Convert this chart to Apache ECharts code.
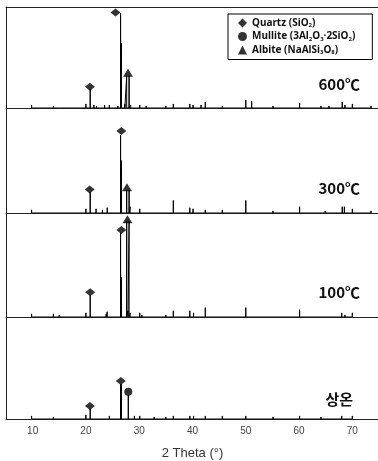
<!DOCTYPE html>
<html><head><meta charset="utf-8">
<script src="https://cdn.jsdelivr.net/npm/echarts@6/dist/echarts.min.js"></script>
<style>html,body{margin:0;padding:0;background:#fff;overflow:hidden;width:378px;height:461px}#c{width:390px;height:461px}</style>
</head><body><div id="c"></div>
<script>
// ---- data ----
const xMin = 5, xMax = 75;
const xTickStep = 5;
const panelLabels = ['600℃', '300℃', '100℃', '상온'];
// stick peaks [2theta, relative intensity %] per panel
const peaks600 = [[9.8,3],[13.9,2],[15.0,1],[20.0,4],[20.8,19],[21.5,3],[22.0,2],[23.5,3],[24.4,3],[26.0,2],[26.5,94],[26.68,64],[27.3,4],[27.65,32],[28.1,32],[28.4,3],[30.1,3],[31.3,2],[35.0,2],[36.4,4],[39.5,4],[40.1,3],[41.6,3],[42.4,6],[45.6,2],[50.0,8],[51.1,7],[55.1,2],[60.1,5],[64.1,2],[65.6,2],[68.1,6],[68.6,3],[70.0,4],[73.5,2]];
const peaks300 = [[9.8,3],[20.0,4],[20.8,20],[21.9,4],[23.1,3],[24.0,5],[26.5,74],[26.68,50],[27.65,22],[28.1,22],[28.3,6],[30.1,4],[36.4,12],[39.5,5],[40.1,4],[42.4,3],[45.6,3],[50.0,12],[55.1,2],[60.1,6],[64.9,2],[68.1,6],[68.5,6],[70.0,4],[73.5,2]];
const peaks100 = [[9.8,3],[13.9,3],[15.0,2],[20.0,4],[20.8,21],[23.8,3],[24.0,5],[26.5,81],[26.68,38],[27.65,92],[27.9,6],[28.1,92],[28.3,4],[30.1,4],[30.5,2],[35.0,2],[36.4,6],[39.5,6],[40.2,4],[42.4,9],[50.0,9],[60.1,7],[68.0,4],[68.6,2],[70.0,4]];
const peaksRT = [[9.8,3],[13.9,2],[20.0,4],[20.8,10],[24.4,3],[26.5,34],[26.68,34],[27.95,23.5],[29.1,3],[30.1,3],[32.8,2],[35.0,2],[36.4,3],[39.5,3],[40.2,3],[42.4,3],[45.6,3],[50.0,3],[55.1,2],[60.1,3],[64.1,2],[68.0,3],[70.0,3]];
// phase markers [2theta, marker centre %]
const quartz600 = [[25.55,94.5],[20.75,21]];
const albite600 = [[27.9,35]];
const quartz300 = [[26.65,78],[20.7,22.5]];
const albite300 = [[27.7,24.5]];
const quartz100 = [[26.65,83.7],[20.8,23.8]];
const albite100 = [[27.8,94]];
const quartzRT = [[26.55,37.3],[20.75,12.7]];
const mulliteRT = [[27.95,26.8]];

const allPeaks = [peaks600, peaks300, peaks100, peaksRT];
const markers = [
  [['Quartz', quartz600], ['Albite', albite600]],
  [['Quartz', quartz300], ['Albite', albite300]],
  [['Quartz', quartz100], ['Albite', albite100]],
  [['Quartz', quartzRT], ['Mullite', mulliteRT]]
];

// ---- layout ----
const grids = [
  {left: 6, top: 7, width: 373, height: 101},
  {left: 6, top: 108, width: 373, height: 105},
  {left: 6, top: 213, width: 373, height: 104},
  {left: 6, top: 317, width: 373, height: 102}
];
const labelY = [84, 188, 292, 399];
const labelRightEdge = [360, 360, 360, 353];
const symbols = {Quartz: ['diamond', [10, 8]], Mullite: ['circle', 8], Albite: ['triangle', [10, 8]]};
const frameLine = {show: true, lineStyle: {color: '#222', width: 1}};

function sticks(p) {
  const s = p.slice().sort((a, b) => a[0] - b[0]);
  const out = [];
  s.forEach(([x, h]) => { out.push([x, 0], [x, h], [x, 0]); });
  return out;
}

const xAxes = [], yAxes = [], series = [];
grids.forEach((g, i) => {
  const last = i === grids.length - 1;
  xAxes.push({
    type: 'value', gridIndex: i, min: xMin, max: xMax, interval: xTickStep, position: 'bottom',
    axisLine: frameLine, axisTick: {show: false}, splitLine: {show: false},
    axisLabel: {show: last, color: '#444', fontSize: 10, fontFamily: 'Liberation Sans', margin: 7,
      formatter: v => (v % 10 === 0 && v > xMin && v < xMax) ? String(v) : ''},
    name: last ? '2 Theta (°)' : '', nameLocation: 'middle', nameGap: 28,
    nameTextStyle: {fontSize: 13, color: '#333', fontFamily: 'Liberation Sans'}
  });
  yAxes.push({type: 'value', gridIndex: i, min: 0, max: 100, position: 'left',
    axisLine: frameLine, axisTick: {show: false}, axisLabel: {show: false}, splitLine: {show: false}});
  series.push({
    type: 'line', xAxisIndex: i, yAxisIndex: i, data: sticks(allPeaks[i]),
    showSymbol: false, symbol: 'none', lineStyle: {color: '#000', width: 1}, silent: true, z: 2
  });
  markers[i].forEach(([name, d]) => {
    series.push({
      type: 'scatter', name, xAxisIndex: i, yAxisIndex: i, data: d,
      symbol: symbols[name][0], symbolSize: symbols[name][1],
      itemStyle: {color: '#000'}, z: 3
    });
  });
});
// top frame line of the first panel
xAxes.push({type: 'value', gridIndex: 0, min: xMin, max: xMax, position: 'top',
  axisLine: frameLine, axisTick: {show: false}, axisLabel: {show: false}, splitLine: {show: false}});

const legendText = {
  Quartz: 'Quartz (SiO{s|2})',
  Mullite: 'Mullite (3Al{s|2}O{s|3}·2SiO{s|2})',
  Albite: 'Albite (NaAlSi{s|3}O{s|8})'
};

const chart = echarts.init(document.getElementById('c'), null, {renderer: 'canvas'});
chart.setOption({
  animation: false,
  grid: grids.map(g => Object.assign({show: false, containLabel: false, outerBoundsMode: 'none'}, g)),
  xAxis: xAxes,
  yAxis: yAxes,
  legend: {
    show: true, orient: 'vertical', left: 228, top: 14,
    data: [{name: 'Quartz', icon: 'diamond'}, {name: 'Mullite', icon: 'circle'}, {name: 'Albite', icon: 'triangle'}],
    itemWidth: 9, itemHeight: 9, itemGap: 3,
    padding: [4, 17, 4, 10], borderColor: '#000', borderWidth: 1,
    formatter: n => legendText[n],
    selectedMode: false,
    textStyle: {fontSize: 10, fontWeight: 'bold', fontFamily: 'Noto Sans', color: '#111',
      rich: {s: {fontSize: 6, fontWeight: 'bold', fontFamily: 'Noto Sans', color: '#111', padding: [5, 0, 0, 0]}}}
  },
  graphic: panelLabels.map((t, i) => ({
    type: 'text', x: labelRightEdge[i], y: labelY[i],
    style: {text: t, font: 'bold 15px "Noto Sans CJK KR"', fill: '#111', align: 'right', verticalAlign: 'middle'}
  })),
  series
});
</script></body></html>
